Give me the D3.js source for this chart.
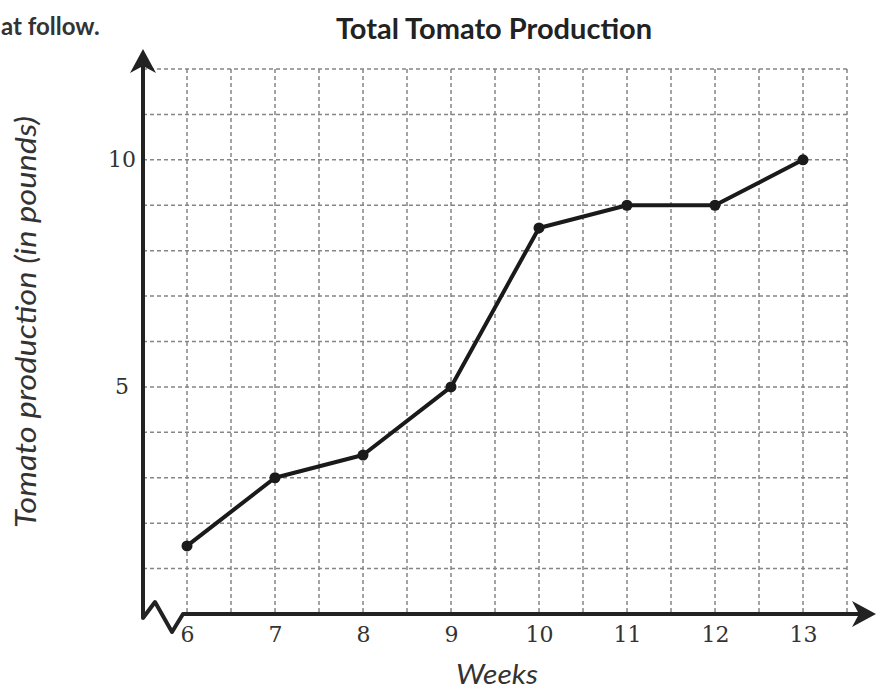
<!DOCTYPE html>
<html>
<head>
<meta charset="utf-8">
<script src="https://cdn.jsdelivr.net/npm/d3@7"></script>
<style>
  body { margin: 0; background: #fff; }
  .tick text { font-family: "DejaVu Serif", serif; font-size: 22px; fill: #333; }
</style>
</head>
<body>
<div class="container"></div>
<script>
// data
var weeks = [6, 7, 8, 9, 10, 11, 12, 13];
var pounds = [1.5, 3, 3.5, 5, 8.5, 9, 9, 10];
var yTickValues = [5, 10];
var title = "Total Tomato Production";

var svg = d3.select(".container").append('svg')
  .attr('width', 877)
  .attr('height', 693);

var x = d3.scaleLinear().domain([5.5, 13.5]).range([143, 847]);
var y = d3.scaleLinear().domain([0, 12]).range([614, 69]);

// cut-off text from the page above the chart
svg.append('text')
  .attr('x', 1).attr('y', 35)
  .attr('font-family', 'Lato').attr('font-weight', 'bold')
  .attr('font-size', 24).attr('fill', '#333')
  .text('at follow.');

svg.append('text')
  .attr('x', 494).attr('y', 39)
  .attr('text-anchor', 'middle')
  .attr('font-family', 'Lato').attr('font-weight', 'bold')
  .attr('font-size', 29).attr('fill', '#222')
  .text(title);

// dashed grid
var grid = svg.append('g')
  .attr('stroke', '#858585')
  .attr('stroke-width', 1.5)
  .attr('stroke-dasharray', '4,3');

grid.selectAll('.hline').data(d3.range(1, 13)).enter()
  .append('line').attr('class', 'hline')
  .attr('x1', x(5.5)).attr('x2', x(13.5))
  .attr('y1', function(d){ return y(d); })
  .attr('y2', function(d){ return y(d); });

grid.selectAll('.vline').data(d3.range(6, 14, 0.5)).enter()
  .append('line').attr('class', 'vline')
  .attr('y1', y(12)).attr('y2', y(0))
  .attr('x1', function(d){ return x(d); })
  .attr('x2', function(d){ return x(d); });

// axes with broken corner
var axisColor = '#222';
svg.append('path')
  .attr('d', 'M' + x(5.5) + ',62 L' + x(5.5) + ',618 L155,602 L172,632 L183,' + y(0) + ' L866,' + y(0))
  .attr('fill', 'none')
  .attr('stroke', axisColor)
  .attr('stroke-width', 4)
  .attr('stroke-linejoin', 'round');

// arrow heads
svg.append('path')
  .attr('d', 'M' + x(5.5) + ',49 L' + (x(5.5) + 13) + ',73 L' + x(5.5) + ',66 L' + (x(5.5) - 13) + ',73 Z')
  .attr('fill', axisColor);
svg.append('path')
  .attr('d', 'M876,' + y(0) + ' L852,' + (y(0) - 13) + ' L859,' + y(0) + ' L852,' + (y(0) + 13) + ' Z')
  .attr('fill', axisColor);

// tick labels
var xAxis = svg.append('g')
  .attr('transform', 'translate(0,' + y(0) + ')')
  .call(d3.axisBottom(x).tickValues(weeks).tickSize(0).tickPadding(12));
xAxis.select('.domain').remove();

var yAxis = svg.append('g')
  .attr('transform', 'translate(' + x(5.5) + ',0)')
  .call(d3.axisLeft(y).tickValues(yTickValues).tickSize(0).tickPadding(4));
yAxis.select('.domain').remove();
yAxis.selectAll('.tick text').attr('text-anchor', 'middle').attr('x', -21);

// axis titles
svg.append('text')
  .attr('transform', 'translate(36,322) rotate(-90)')
  .attr('text-anchor', 'middle')
  .attr('font-family', 'Lato').attr('font-style', 'italic')
  .attr('font-size', 29).attr('fill', '#333')
  .attr('textLength', 412).attr('lengthAdjust', 'spacingAndGlyphs')
  .text('Tomato production (in pounds)');

svg.append('text')
  .attr('x', 497).attr('y', 684)
  .attr('text-anchor', 'middle')
  .attr('font-family', 'Lato').attr('font-style', 'italic')
  .attr('font-size', 27).attr('fill', '#333')
  .attr('textLength', 82).attr('lengthAdjust', 'spacingAndGlyphs')
  .text('Weeks');

// the line
var line = d3.line()
  .x(function(d, i){ return x(weeks[i]); })
  .y(function(d){ return y(d); });

svg.append('path')
  .datum(pounds)
  .attr('d', line)
  .attr('fill', 'none')
  .attr('stroke', '#1a1a1a')
  .attr('stroke-width', 4)
  .attr('stroke-linejoin', 'round');

svg.selectAll('.dot').data(pounds).enter()
  .append('circle').attr('class', 'dot')
  .attr('r', 5.5)
  .attr('cx', function(d, i){ return x(weeks[i]); })
  .attr('cy', function(d){ return y(d); })
  .attr('fill', '#1a1a1a');
</script>
</body>
</html>
